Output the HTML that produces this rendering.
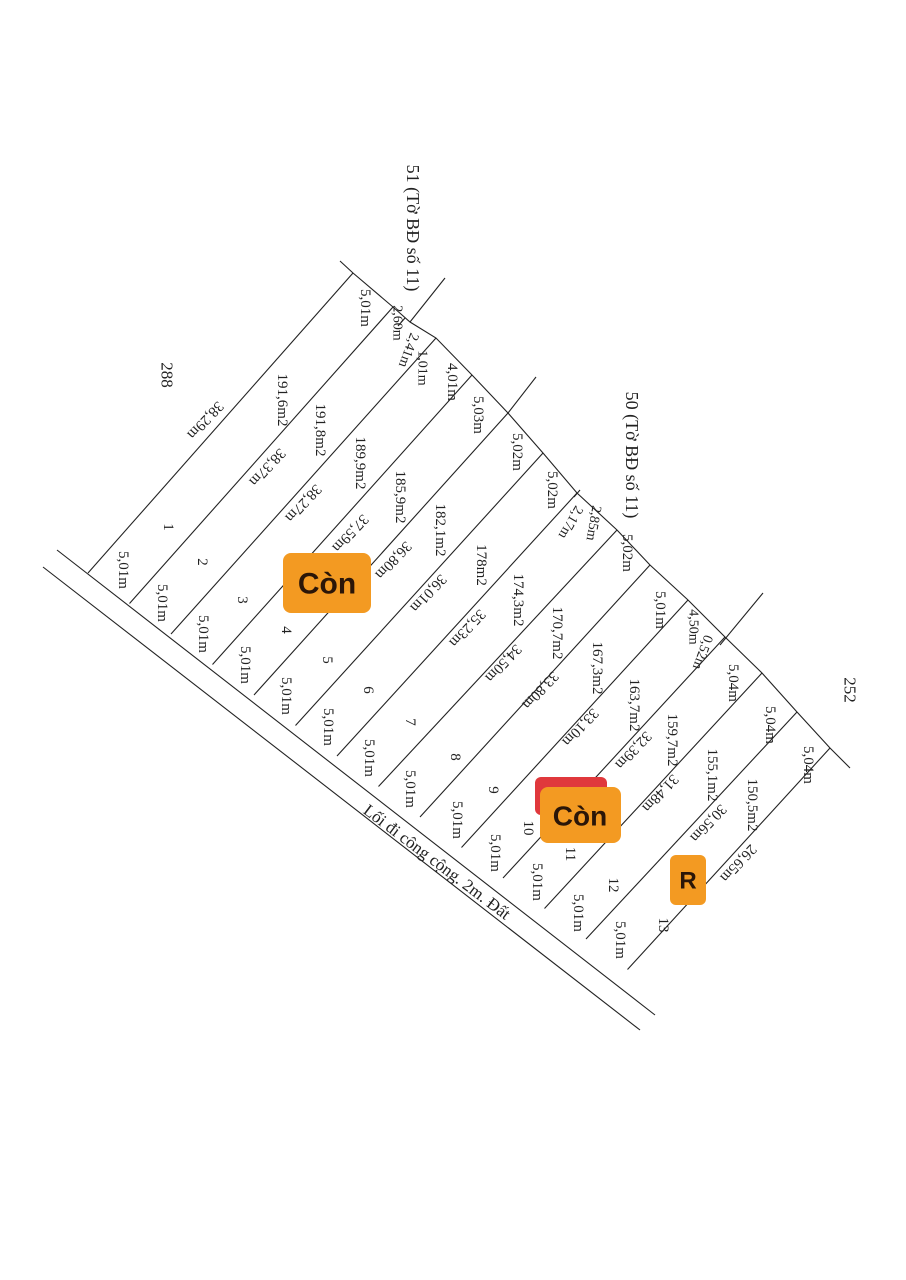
<!DOCTYPE html>
<html><head><meta charset="utf-8"><style>
html,body{margin:0;padding:0;background:#fff;}
svg{display:block}
text{font-family:"Liberation Serif",serif;fill:#222;}
.b{font-family:"Liberation Sans",sans-serif;font-weight:bold;fill:#2b1608;}
</style></head><body>
<svg width="906" height="1280" viewBox="0 0 906 1280" xmlns="http://www.w3.org/2000/svg">
<rect width="906" height="1280" fill="#fff"/>
<g stroke="#222" stroke-width="1.1" fill="none">
<line x1="57" y1="550" x2="655" y2="1015"/>
<line x1="43" y1="567" x2="640" y2="1030"/>
<polyline points="340,261 353,273 393,307 410,322 436,338 472,375 508,413 543,453 577,493 617,530 650,565 688,600 725,637 762,673 797,712 830,748 850,768"/>
<line x1="445" y1="278" x2="410" y2="322"/>
<line x1="536" y1="377" x2="508" y2="413"/>
<line x1="763" y1="593" x2="720" y2="645"/>
<line x1="353" y1="273" x2="88" y2="573"/>
<line x1="393" y1="307" x2="129.5" y2="603.5"/>
<line x1="436" y1="338" x2="171" y2="634"/>
<line x1="472" y1="375" x2="212.5" y2="664.5"/>
<line x1="508" y1="413" x2="254" y2="695"/>
<line x1="543" y1="453" x2="295.5" y2="725.5"/>
<line x1="577" y1="493" x2="337" y2="756"/>
<line x1="617" y1="530" x2="378.5" y2="786.5"/>
<line x1="650" y1="565" x2="420" y2="817"/>
<line x1="688" y1="600" x2="461.5" y2="847.5"/>
<line x1="725" y1="637" x2="503" y2="878"/>
<line x1="762" y1="673" x2="544.5" y2="908.5"/>
<line x1="797" y1="712" x2="586" y2="939"/>
<line x1="830" y1="748" x2="627.5" y2="969.5"/>
<line x1="405" y1="318" x2="398" y2="326"/>
<line x1="580" y1="490" x2="574" y2="497"/>
</g>
<g font-size="15" text-anchor="middle" dominant-baseline="central">
<text x="413" y="228" font-size="18" transform="rotate(90 413 228)">51 (Tờ BĐ số 11)</text>
<text x="632" y="455" font-size="18" transform="rotate(90 632 455)">50 (Tờ BĐ số 11)</text>
<text x="167" y="375" font-size="17" transform="rotate(90 167 375)">288</text>
<text x="850" y="690" font-size="17" transform="rotate(90 850 690)">252</text>
<text x="437" y="862" font-size="17" transform="rotate(37 437 862)">Lối đi công cộng. 2m. Đất</text>
<!-- top widths -->
<text x="365" y="308" transform="rotate(90 365 308)">5,01m</text>
<text x="397" y="323" font-size="14" transform="rotate(90 397 323)">2,60m</text>
<text x="408" y="350" font-size="14" transform="rotate(110 408 350)">2,41m</text>
<text x="422" y="368" font-size="14" transform="rotate(90 422 368)">1,01m</text>
<text x="452" y="382" transform="rotate(90 452 382)">4,01m</text>
<text x="478" y="415" transform="rotate(90 478 415)">5,03m</text>
<text x="517" y="452" transform="rotate(90 517 452)">5,02m</text>
<text x="552" y="490" transform="rotate(90 552 490)">5,02m</text>
<text x="570" y="522" font-size="14" transform="rotate(120 570 522)">2,17m</text>
<text x="593" y="523" font-size="14" transform="rotate(100 593 523)">2,85m</text>
<text x="627" y="553" transform="rotate(90 627 553)">5,02m</text>
<text x="660" y="610" transform="rotate(90 660 610)">5,01m</text>
<text x="693" y="627" font-size="14" transform="rotate(90 693 627)">4,50m</text>
<text x="702" y="652" font-size="14" transform="rotate(110 702 652)">0,52m</text>
<text x="733" y="683" transform="rotate(90 733 683)">5,04m</text>
<text x="770" y="725" transform="rotate(90 770 725)">5,04m</text>
<text x="808" y="765" transform="rotate(90 808 765)">5,04m</text>
<!-- areas -->
<text x="282" y="400" transform="rotate(90 282 400)">191,6m2</text>
<text x="320" y="430" transform="rotate(90 320 430)">191,8m2</text>
<text x="360" y="463" transform="rotate(90 360 463)">189,9m2</text>
<text x="400" y="497" transform="rotate(90 400 497)">185,9m2</text>
<text x="440" y="530" transform="rotate(90 440 530)">182,1m2</text>
<text x="481" y="565" transform="rotate(90 481 565)">178m2</text>
<text x="518" y="600" transform="rotate(90 518 600)">174,3m2</text>
<text x="557" y="633" transform="rotate(90 557 633)">170,7m2</text>
<text x="597" y="668" transform="rotate(90 597 668)">167,3m2</text>
<text x="634" y="705" transform="rotate(90 634 705)">163,7m2</text>
<text x="672" y="740" transform="rotate(90 672 740)">159,7m2</text>
<text x="712" y="775" transform="rotate(90 712 775)">155,1m2</text>
<text x="752" y="805" transform="rotate(90 752 805)">150,5m2</text>
<!-- lengths -->
<text x="205" y="420" transform="rotate(133 205 420)">38,29m</text>
<text x="267" y="467" transform="rotate(133 267 467)">38,37m</text>
<text x="303" y="503" transform="rotate(133 303 503)">38,27m</text>
<text x="350" y="533" transform="rotate(133 350 533)">37,59m</text>
<text x="393" y="560" transform="rotate(133 393 560)">36,80m</text>
<text x="428" y="593" transform="rotate(133 428 593)">36,01m</text>
<text x="467" y="628" transform="rotate(133 467 628)">35,23m</text>
<text x="503" y="663" transform="rotate(133 503 663)">34,50m</text>
<text x="540" y="690" transform="rotate(133 540 690)">33,80m</text>
<text x="580" y="727" transform="rotate(133 580 727)">33,10m</text>
<text x="633" y="750" transform="rotate(133 633 750)">32,39m</text>
<text x="660" y="793" transform="rotate(133 660 793)">31,48m</text>
<text x="708" y="823" transform="rotate(133 708 823)">30,56m</text>
<text x="738" y="863" transform="rotate(133 738 863)">26,65m</text>
<!-- lot numbers -->
<text x="168" y="527" transform="rotate(90 168 527)">1</text>
<text x="202" y="562" transform="rotate(90 202 562)">2</text>
<text x="242" y="600" transform="rotate(90 242 600)">3</text>
<text x="286" y="630" transform="rotate(90 286 630)">4</text>
<text x="327" y="660" transform="rotate(90 327 660)">5</text>
<text x="368" y="690" transform="rotate(90 368 690)">6</text>
<text x="410" y="722" transform="rotate(90 410 722)">7</text>
<text x="455" y="757" transform="rotate(90 455 757)">8</text>
<text x="493" y="790" transform="rotate(90 493 790)">9</text>
<text x="528" y="828" transform="rotate(90 528 828)">10</text>
<text x="570" y="854" transform="rotate(90 570 854)">11</text>
<text x="613" y="885" transform="rotate(90 613 885)">12</text>
<text x="663" y="925" transform="rotate(90 663 925)">13</text>
<!-- bottom widths -->
<text x="123" y="570" transform="rotate(90 123 570)">5,01m</text>
<text x="162" y="603" transform="rotate(90 162 603)">5,01m</text>
<text x="203" y="634" transform="rotate(90 203 634)">5,01m</text>
<text x="245" y="665" transform="rotate(90 245 665)">5,01m</text>
<text x="286" y="696" transform="rotate(90 286 696)">5,01m</text>
<text x="328" y="727" transform="rotate(90 328 727)">5,01m</text>
<text x="369" y="758" transform="rotate(90 369 758)">5,01m</text>
<text x="410" y="789" transform="rotate(90 410 789)">5,01m</text>
<text x="457" y="820" transform="rotate(90 457 820)">5,01m</text>
<text x="495" y="853" transform="rotate(90 495 853)">5,01m</text>
<text x="537" y="882" transform="rotate(90 537 882)">5,01m</text>
<text x="578" y="913" transform="rotate(90 578 913)">5,01m</text>
<text x="620" y="940" transform="rotate(90 620 940)">5,01m</text>
</g>
<!-- badges -->
<rect x="283" y="553" width="88" height="60" rx="8" fill="#f39a22"/>
<text x="327" y="584" class="b" font-size="30" text-anchor="middle" dominant-baseline="central">Còn</text>
<rect x="535" y="777" width="72" height="38" rx="6" fill="#e0383c"/>
<rect x="540" y="787" width="81" height="56" rx="8" fill="#f39a22"/>
<text x="580" y="816" class="b" font-size="28" text-anchor="middle" dominant-baseline="central">Còn</text>
<rect x="670" y="855" width="36" height="50" rx="6" fill="#f39a22"/>
<text x="688" y="881" class="b" font-size="24" text-anchor="middle" dominant-baseline="central">R</text>
</svg>
</body></html>
